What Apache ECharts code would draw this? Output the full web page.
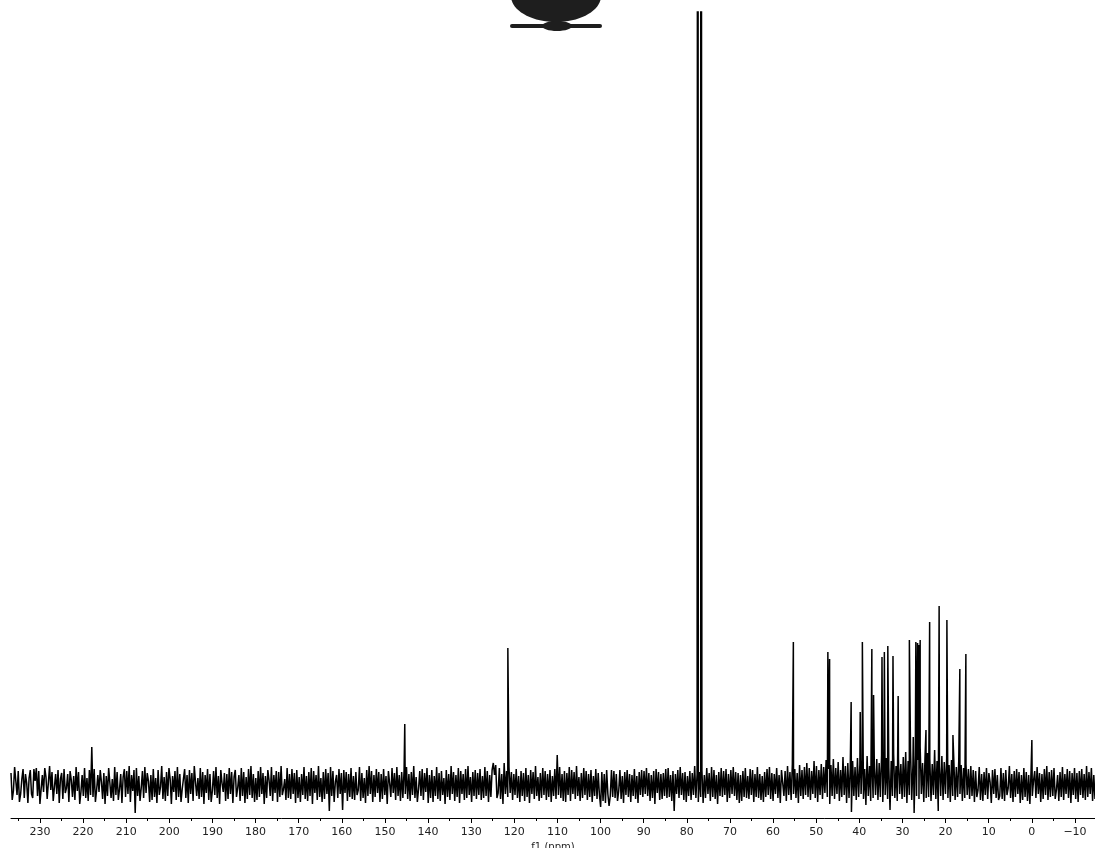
<!DOCTYPE html>
<html>
<head>
<meta charset="utf-8">
<script src="https://cdn.jsdelivr.net/npm/echarts@6/dist/echarts.min.js"></script>
<style>
  html, body { margin: 0; padding: 0; background: #fff; }
  #chart { width: 1095px; height: 848px; }
</style>
</head>
<body>
<div id="chart"></div>
<script>
// ppm range shown (axis is reversed, high ppm on the left)
var ppmLeft = 236.7;
var ppmRight = -14.64;

// baseline noise, read left to right, evenly spaced across the range
var noiseValues = [
  12,-15,-6,18,4,-10,14,-17,-9,6,16,-13,11,2,-18,7,15,-9,-13,16,
  4,17,-11,14,-19,-4,10,-7,17,8,-14,-12,19,-5,13,-16,-2,11,-9,15,
  -18,6,12,-14,16,-8,-3,11,-17,14,5,-12,9,-15,18,-6,13,-19,-7,10,
  -11,17,-13,7,-16,15,-10,38,-12,16,-17,-5,10,-7,15,3,-14,12,-19,9,
  -11,17,2,-13,6,-16,18,-10,13,-15,-4,11,-18,8,16,-12,14,-9,19,-17,
  10,-6,15,-28,17,-11,9,-16,-3,14,-13,18,-8,12,4,-17,10,-15,16,-12,
  7,-18,15,-10,-2,19,-14,8,-16,13,-11,17,6,-19,9,-7,14,-15,18,-12,
  11,-17,-4,6,16,-13,10,-18,15,-9,12,-16,19,3,-11,7,-14,17,-12,13,
  -19,10,-8,16,-15,11,-17,-6,14,-10,18,-13,9,-19,15,2,-7,12,-16,11,
  -14,17,-9,13,-18,8,15,-12,-3,10,-16,17,-11,13,-18,8,-14,16,-10,19,
  -13,11,-17,7,-15,14,-12,18,-9,12,-19,9,-13,15,5,-11,18,-16,10,-8,
  14,-17,13,-12,19,-10,-4,6,-15,17,-13,11,-14,16,-9,12,-18,15,-13,8,
  -17,11,-10,18,-14,9,-16,13,-11,17,-19,14,-8,10,-15,19,-12,7,-17,13,
  -14,16,-9,12,-26,18,-11,14,-17,3,10,-13,16,-9,12,-25,15,-8,13,-16,
  11,-12,17,-14,9,-15,13,-10,-5,18,-16,12,-13,7,-18,15,-11,19,-9,14,
  -17,10,-12,16,-8,13,-17,11,-14,16,-10,9,-19,14,2,-12,17,-8,12,-15,
  18,-11,10,-16,13,-13,15,-9,18,-14,11,-16,13,-10,19,-13,8,-17,-4,14,
  -11,16,-15,12,-7,17,-18,10,-13,15,-17,9,-11,18,-14,12,-16,14,-10,7,
  -19,15,-12,11,-15,19,-9,13,-16,10,-12,17,-18,14,-9,11,-15,16,-13,19,
  -10,8,-17,13,-11,15,-14,12,-10,16,-15,9,-13,18,-11,14,-17,10,-12,15,
  22,10,20,-13,-8,17,-14,11,-19,22,-9,14,-12,18,-8,13,-15,11,-10,16,
  -13,9,-17,14,-11,12,-16,17,-12,10,-18,15,-9,13,-14,19,-11,8,-16,12,
  -13,17,-10,14,-15,11,-12,15,-17,9,-11,16,-14,30,-10,18,-13,11,-16,14,
  -17,12,-10,18,-16,15,-9,13,-14,19,-11,8,-16,12,-13,17,-10,14,-15,11,
  -12,15,-17,9,-11,16,-14,12,-10,-22,13,-16,11,-18,15,-9,-21,-11,15,-12,
  14,-13,11,-16,-6,15,-14,9,-18,13,-10,15,-12,11,-17,10,-11,16,-14,9,
  -18,13,-10,15,-12,14,-9,17,-11,12,-16,10,-13,14,-19,16,-8,13,-15,11,
  -14,12,-11,16,-13,17,-12,10,-16,14,-26,11,-9,15,-13,18,-10,12,-15,13,
  -17,9,-11,14,-15,12,-10,19,-13,11,-17,13,-12,15,-18,10,-13,17,-9,12,
  -16,18,-12,15,-14,10,-19,13,-11,17,-12,14,-10,16,-17,11,-13,15,-9,18,
  -11,13,-15,12,-18,10,-16,14,-12,17,-13,9,-14,16,-10,15,-17,11,-12,18,
  -13,11,-15,9,-17,13,-12,16,-10,18,-14,12,-16,11,-9,17,-13,10,-18,15,
  17,-11,14,-16,19,-10,13,-15,21,-9,16,-13,12,-18,20,-11,15,-14,18,-10,
  22,-12,17,-15,14,-9,24,-13,19,-17,15,-10,21,-14,18,-8,25,-12,16,-19,
  20,-11,26,-14,17,-9,23,-16,15,-12,28,-10,19,-18,22,-13,16,-27,24,-11,
  18,-15,27,-12,21,-9,25,-14,16,-20,29,-11,19,-16,23,-13,17,-10,26,-15,
  22,-12,30,-17,20,-10,27,-14,18,-25,24,-11,31,-13,19,-16,26,-9,21,-14,
  28,-12,33,-18,24,-10,36,-15,20,-28,30,-11,25,-14,38,-9,22,-17,27,-13,
  32,-12,26,-16,21,-10,35,-14,24,-26,19,-11,29,-15,23,-9,27,-13,20,-17,
  25,-11,22,-15,18,-12,24,-9,20,-16,17,-13,21,-10,16,-14,19,-11,15,-17,
  14,-12,-5,18,-15,11,-16,13,-10,17,-14,12,3,-18,15,-9,16,-13,10,-15,
  -11,17,-14,12,-16,15,-10,-3,19,-13,11,-17,14,-12,16,-9,13,-18,10,-15,
  17,-12,13,-16,10,-19,15,-11,4,14,-13,18,-9,12,-17,11,-14,16,-10,19,
  -15,13,-12,15,-11,17,-14,-5,10,-16,13,-12,18,-15,11,-9,16,-13,14,-18,
  12,-10,17,-14,12,-17,14,-10,16,-13,11,-15,19,-12,13,-9,17,-16,10,-14
];

// peaks: chemical shift and height (77 ppm solvent lines run off the top)
var peakPpm = [145.4, 121.5, 77.45, 76.75, 55.3, 47.3, 46.9, 41.9, 39.8, 39.3,
  37.1, 36.7, 34.75, 34.2, 33.4, 32.2, 31.0, 28.4, 27.5, 26.9,
  26.5, 26.2, 25.9, 24.55, 23.7, 21.5, 19.7, 18.3, 16.7, 15.3, 0.0];
var peakHeight = [61, 137, 2000, 2000, 143, 133, 126, 83, 73, 143,
  136, 90, 128, 133, 139, 129, 89, 145, 48, 143,
  142, 140, 145, 55, 163, 179, 165, 50, 116, 131, 45];

var majorTicks = [230, 220, 210, 200, 190, 180, 170, 160, 150, 140, 130, 120,
  110, 100, 90, 80, 70, 60, 50, 40, 30, 20, 10, 0, -10];
var minorTicks = [235, 225, 215, 205, 195, 185, 175, 165, 155, 145, 135, 125,
  115, 105, 95, 85, 75, 65, 55, 45, 35, 25, 15, 5, -5];

// build the trace: noise samples plus peaks, sorted by ppm
var points = [];
var step = (ppmLeft - ppmRight) / (noiseValues.length - 1);
noiseValues.forEach(function (v, i) {
  points.push([ppmLeft - i * step, v]);
});
peakPpm.forEach(function (p, i) {
  points.push([p, peakHeight[i]]);
});
points.sort(function (a, b) { return b[0] - a[0]; });

var myChart = echarts.init(document.getElementById('chart'), null, { renderer: 'canvas' });

var options = {
  animation: false,
  grid: { left: 11, right: 0, top: 12, bottom: 30, outerBoundsMode: 'none' },
  xAxis: [
    {
      type: 'value',
      min: ppmRight,
      max: ppmLeft,
      inverse: true,
      name: 'f1 (ppm)',
      nameLocation: 'middle',
      nameGap: 17,
      nameTextStyle: { fontFamily: 'DejaVu Sans', fontSize: 10, color: '#222' },
      axisLine: { show: true, onZero: false, lineStyle: { color: '#000', width: 1 } },
      axisTick: { show: true, customValues: majorTicks, length: 5, lineStyle: { color: '#000' } },
      axisLabel: {
        customValues: majorTicks,
        margin: 9,
        fontFamily: 'DejaVu Sans',
        fontSize: 11,
        color: '#222',
        formatter: function (v) { return v < 0 ? '\u2212' + Math.abs(v) : String(v); }
      },
      splitLine: { show: false }
    },
    {
      type: 'value',
      min: ppmRight,
      max: ppmLeft,
      inverse: true,
      position: 'bottom',
      axisLine: { show: false, onZero: false },
      axisTick: { show: true, customValues: minorTicks, length: 3, lineStyle: { color: '#000' } },
      axisLabel: { show: false },
      splitLine: { show: false }
    }
  ],
  yAxis: {
    type: 'value',
    min: -33,
    max: 773,
    show: false
  },
  series: [
    {
      type: 'line',
      xAxisIndex: 0,
      data: points,
      showSymbol: false,
      clip: true,
      lineStyle: { color: '#000', width: 1.5 }
    }
  ],
  // dark blot at the top centre of the scan
  graphic: [
    { type: 'ellipse', shape: { cx: 556, cy: -4, rx: 45, ry: 26 }, style: { fill: '#1e1e1e' } },
    { type: 'rect', shape: { x: 510, y: 24, width: 92, height: 4, r: 2 }, style: { fill: '#1e1e1e' } },
    { type: 'ellipse', shape: { cx: 557, cy: 26, rx: 15, ry: 5 }, style: { fill: '#1e1e1e' } }
  ]
};
myChart.setOption(options);
</script>
</body>
</html>
